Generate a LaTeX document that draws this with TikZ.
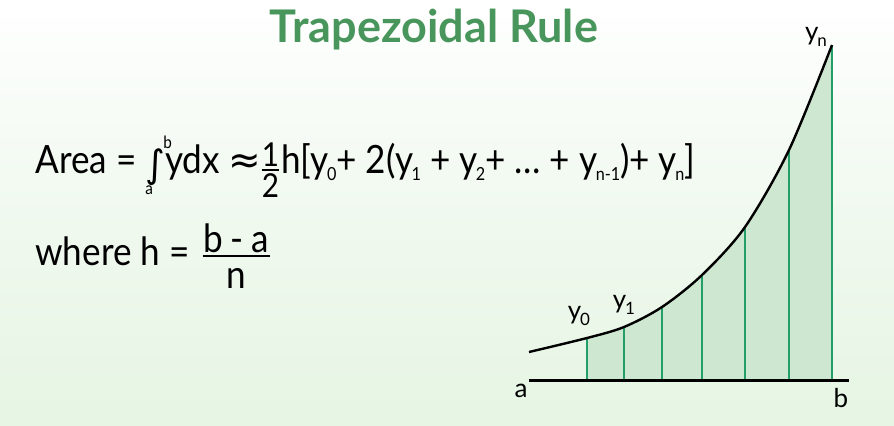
\documentclass[tikz,border=0pt]{standalone}
\usepackage{fontspec}
\setmainfont{Lato}
\newfontfamily\eqfont{Lato}[FakeStretch=0.9]
\newfontfamily\symfont{DejaVu Sans}
\usetikzlibrary{positioning}
\definecolor{titlegreen}{RGB}{72,150,92}
\definecolor{stripgreen}{RGB}{36,158,104}
\definecolor{areagreen}{RGB}{206,231,209}
\definecolor{bgbottom}{RGB}{230,245,228}
\newcommand{\sbs}[1]{\kern-0.8pt\raisebox{-3.5pt}{\fontsize{9}{9}\selectfont #1}}
\newcommand{\lsub}[1]{\kern-0.6pt\raisebox{-2.6pt}{\fontsize{8.5}{8.5}\selectfont #1}}
\newcommand{\intab}{\rlap{\raisebox{-10.5pt}{\fontsize{8.5}{8.5}\selectfont a}}{\symfont\fontsize{19}{19}\selectfont\raisebox{-2pt}{∫}}\rlap{\kern-1pt\raisebox{12.5pt}{\fontsize{8.5}{8.5}\selectfont b}}}
% num, den, raise of num, raise of bar, raise of den, extra width
\newcommand{\stackfrac}[6]{\begingroup\setbox0\hbox{#1}\setbox2\hbox{#2}%
  \dimen0=\ifdim\wd0>\wd2 \wd0\else\wd2\fi\advance\dimen0 by #6%
  \rlap{\raisebox{#3}{\makebox[\dimen0]{#1}}}\rlap{\raisebox{#4}{\rule{\dimen0}{0.8pt}}}\raisebox{#5}{\makebox[\dimen0]{#2}}\endgroup}

\begin{document}
\begin{tikzpicture}[x=0.5pt,y=-0.5pt,
  eq/.style={anchor=base west,inner sep=0,font=\eqfont\fontsize{19.5}{19.5}\selectfont},
  lbl/.style={inner sep=0,font=\fontsize{13}{13}\selectfont},
  curve/.style={line width=1.2pt,black},
  strip/.style={line width=1pt,stripgreen},
  axisline/.style={line width=1.5pt,black}
]
  \shade[top color=white,bottom color=bgbottom,middle color=bgbottom!60] (0,0) rectangle (894,425);
  \useasboundingbox (0,0) rectangle (894,425);

  \node[anchor=base,inner sep=0,font=\bfseries\fontsize{22.5}{22.5}\selectfont,text=titlegreen] (title) at (434,42) {Trapezoidal Rule};

  \node[eq] (area) at (35,173) {Area = \intab ydx {\symfont≈}{\fontsize{16.5}{16.5}\selectfont\stackfrac{1}{2}{3.2pt}{1.2pt}{-12pt}{0.3pt}}\kern0.8pt h[y\sbs{0}+ 2(y\sbs{1} + y\sbs{2}+ … + y\sbs{n-1})+ y\sbs{n}]};
  \node[eq] (width) at (35,265) {where h = \kern2pt\stackfrac{b\hspace{4pt}-\hspace{4pt}a}{n}{6.5pt}{4pt}{-11.5pt}{0.5pt}};

  \begin{scope}
    \clip (587,0) rectangle (832,380);
    \fill[areagreen] plot[smooth] coordinates {(529,352) (587,338) (624,327) (662,307) (702,275) (745,227) (789,150) (832,45)} -- (832,380) -- (529,380) -- cycle;
  \end{scope}

  \foreach \x/\y [count=\i] in {587/338,624/327,662/307,702/275,745/227,789/150,832/45}{
    \coordinate (top\i) at (\x,\y);
    \coordinate (bot\i) at (\x,380);
    \draw[strip] (bot\i) -- (top\i);
  }

  \draw[curve] plot[smooth] coordinates {(529,352) (587,338) (624,327) (662,307) (702,275) (745,227) (789,150) (832,45)};

  \coordinate (axl) at (529,380);
  \coordinate (axr) at (849,380);
  \draw[axisline] (axl) -- (axr);

  \node[lbl] (ya) at (579,316) {y\lsub{0}};
  \node[lbl] (yb) at (624,305) {y\lsub{1}};
  \node[lbl] (yn) at (816,37) {y\lsub{n}};
  \node[lbl] (la) at (521,391) {a};
  \node[lbl] (lb) at (841,398) {b};
\end{tikzpicture}
\end{document}
